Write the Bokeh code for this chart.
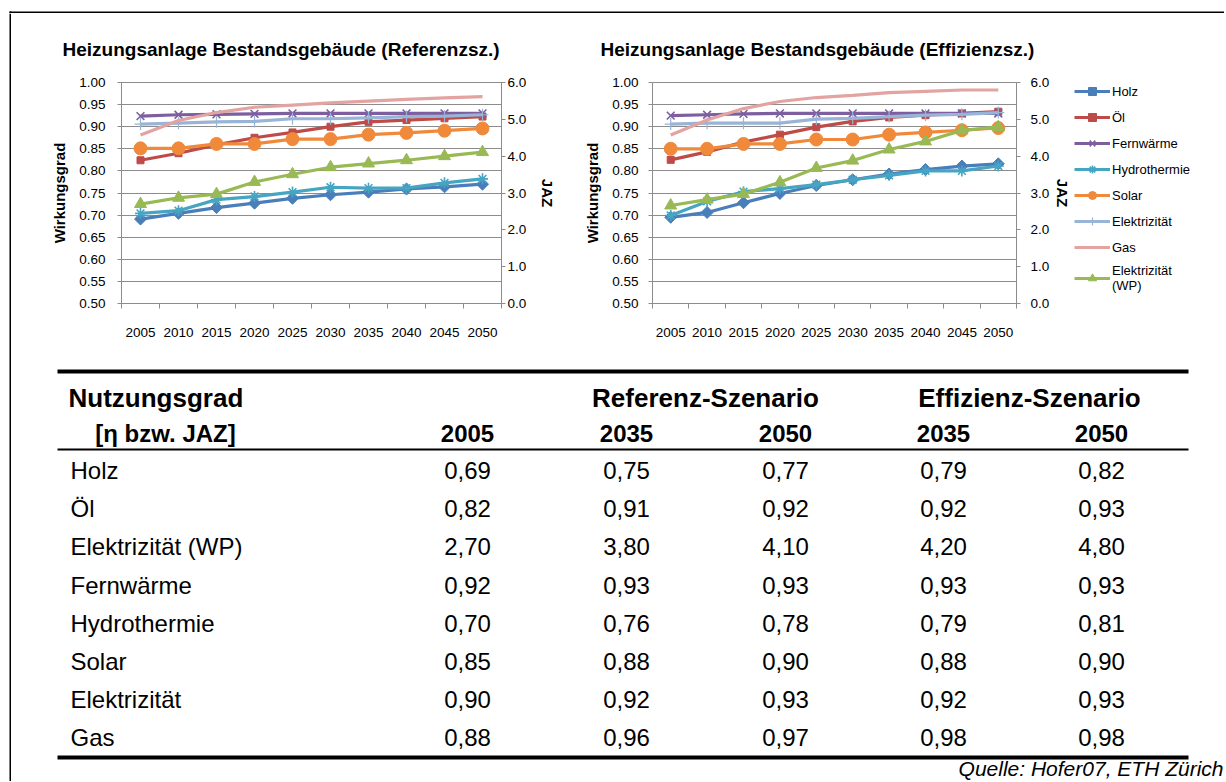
import numpy as np
from bokeh.plotting import figure
from bokeh.layouts import row, column
from bokeh.models import (Range1d, LinearAxis, FixedTicker, NumeralTickFormatter,
                          Legend, LegendItem)
from bokeh.embed import file_html
from bokeh.resources import INLINE
from bokeh.core.properties import value

FONT = "Liberation Sans"

# ---------------- data ----------------
years = [2005, 2010, 2015, 2020, 2025, 2030, 2035, 2040, 2045, 2050]
series = ["Holz", "Öl", "Fernwärme", "Hydrothermie", "Solar", "Elektrizität", "Gas", "Elektrizität (WP)"]

# Referenz-Szenario (Wirkungsgrad, left axis)
holz_ref = [0.691, 0.704, 0.717, 0.727, 0.738, 0.746, 0.752, 0.759, 0.764, 0.770]
oel_ref = [0.824, 0.840, 0.859, 0.875, 0.887, 0.900, 0.911, 0.915, 0.919, 0.923]
fern_ref = [0.924, 0.927, 0.928, 0.929, 0.930, 0.930, 0.930, 0.930, 0.930, 0.930]
hydro_ref = [0.704, 0.710, 0.735, 0.742, 0.752, 0.763, 0.761, 0.761, 0.773, 0.782]
solar_ref = [0.851, 0.851, 0.861, 0.861, 0.872, 0.872, 0.882, 0.886, 0.891, 0.896]
elek_ref = [0.906, 0.908, 0.911, 0.912, 0.918, 0.918, 0.920, 0.923, 0.924, 0.927]
gas_ref = [0.881, 0.914, 0.932, 0.944, 0.949, 0.954, 0.958, 0.962, 0.965, 0.968]
wp_ref = [2.70, 2.87, 2.97, 3.30, 3.51, 3.70, 3.80, 3.89, 4.00, 4.11]   # JAZ, right axis

# Effizienz-Szenario
holz_eff = [0.695, 0.706, 0.728, 0.749, 0.767, 0.780, 0.793, 0.803, 0.811, 0.816]
oel_eff = [0.825, 0.843, 0.865, 0.882, 0.899, 0.912, 0.921, 0.926, 0.930, 0.934]
fern_eff = [0.925, 0.927, 0.929, 0.930, 0.930, 0.930, 0.930, 0.930, 0.930, 0.930]
hydro_eff = [0.699, 0.731, 0.753, 0.760, 0.769, 0.780, 0.790, 0.800, 0.800, 0.811]
solar_eff = [0.850, 0.850, 0.861, 0.861, 0.871, 0.871, 0.882, 0.887, 0.892, 0.897]
elek_eff = [0.906, 0.908, 0.908, 0.908, 0.917, 0.919, 0.923, 0.926, 0.928, 0.932]
gas_eff = [0.881, 0.915, 0.941, 0.957, 0.966, 0.971, 0.977, 0.980, 0.983, 0.983]
wp_eff = [2.66, 2.82, 2.97, 3.29, 3.68, 3.88, 4.18, 4.40, 4.70, 4.79]

y_ticks = [0.50, 0.55, 0.60, 0.65, 0.70, 0.75, 0.80, 0.85, 0.90, 0.95, 1.00]
jaz_ticks = [0, 1, 2, 3, 4, 5, 6]

# Table
table_labels = ["Holz", "Öl", "Elektrizität (WP)", "Fernwärme", "Hydrothermie", "Solar", "Elektrizität", "Gas"]
t_2005 = [0.69, 0.82, 2.70, 0.92, 0.70, 0.85, 0.90, 0.88]
t_ref_2035 = [0.75, 0.91, 3.80, 0.93, 0.76, 0.88, 0.92, 0.96]
t_ref_2050 = [0.77, 0.92, 4.10, 0.93, 0.78, 0.90, 0.93, 0.97]
t_eff_2035 = [0.79, 0.92, 4.20, 0.93, 0.79, 0.88, 0.92, 0.98]
t_eff_2050 = [0.82, 0.93, 4.80, 0.93, 0.81, 0.90, 0.93, 0.98]
t_col_years = ["2005", "2035", "2050", "2035", "2050"]

# ---------------- styles ----------------
COLORS = ["#4A7EBB", "#BE4B48", "#7D5FA0", "#46A5C2", "#F08A3A", "#98B4D6", "#E2A3A1", "#98B954"]
MARKERS = [("square", 8.5, np.pi / 4), ("square", 7, 0), ("x", 11, 0), ("asterisk", 11, 0),
           ("circle", 13, 0), ("cross", 12, 0), (None, 0, 0), ("triangle", 12, 0)]
GRID = "#8C8C8C"
FIG_H = 337
PAGE_W = 1224


def draw_series(p, xs, all_vals):
    items = []
    for i, name in enumerate(series):
        ys = all_vals[i]
        kw = {"y_range_name": "jaz"} if i == 7 else {}
        col = COLORS[i]
        rends = [p.line(xs, ys, line_color=col, line_width=3.2, **kw)]
        mk, sz, ang = MARKERS[i]
        if mk is not None:
            if mk in ("x", "asterisk", "cross"):
                rends.append(p.scatter(xs, ys, marker=mk, size=sz, line_color=col,
                                       line_width=1.6 if mk != "cross" else 1.2, **kw))
            else:
                rends.append(p.scatter(xs, ys, marker=mk, size=sz, angle=ang,
                                       fill_color=col, line_color=col, line_width=1, **kw))
        label = "Elektrizität\n(WP)" if name == "Elektrizität (WP)" else name
        items.append(LegendItem(label=label, renderers=rends))
    return items


def make_chart(title, vals, wp_vals, fig_w, frame_w, frame_h, b_left, title_off,
               ylab_stand, ylab_axstand, r_lab_stand, r_axstand):
    p = figure(width=fig_w, height=FIG_H, output_backend="svg", toolbar_location=None,
               x_range=Range1d(years[0] - 2.5, years[-1] + 2.5), y_range=Range1d(0.5, 1.0),
               min_border_left=b_left, min_border_right=fig_w - b_left - frame_w, min_border_top=60,
               min_border_bottom=FIG_H - 60 - frame_h,
               background_fill_color="white", border_fill_color="white",
               outline_line_color=GRID, outline_line_width=1)
    p.title.text = title
    p.title.align = "left"
    p.title.offset = title_off
    p.title.standoff = 46
    p.title.text_font = FONT
    p.title.text_font_size = "19px"
    p.title.text_font_style = "bold"
    p.title.text_color = "black"

    p.xgrid.visible = False
    p.ygrid.grid_line_color = GRID
    p.ygrid.grid_line_width = 1

    xa = p.xaxis[0]
    xa.ticker = FixedTicker(ticks=years, minor_ticks=[y - 2.5 for y in years] + [years[-1] + 2.5])
    xa.major_label_overrides = {y: str(y) for y in years}
    xa.major_tick_out = 0
    xa.major_tick_in = 0
    xa.minor_tick_out = 5
    xa.minor_tick_in = 0
    xa.minor_tick_line_color = GRID
    xa.axis_line_color = GRID
    xa.major_label_standoff = 19
    xa.major_label_text_font = FONT
    xa.major_label_text_font_size = "13.5px"
    xa.major_label_text_color = "black"

    ya = p.yaxis[0]
    ya.ticker = FixedTicker(ticks=y_ticks)
    ya.formatter = NumeralTickFormatter(format="0.00")
    ya.major_tick_out = 4
    ya.major_tick_in = 0
    ya.minor_tick_out = 0
    ya.minor_tick_in = 0
    ya.major_tick_line_color = GRID
    ya.axis_line_color = GRID
    ya.major_label_standoff = ylab_stand
    ya.major_label_text_font = FONT
    ya.major_label_text_font_size = "13.5px"
    ya.major_label_text_color = "black"
    ya.axis_label = "Wirkungsgrad"
    ya.axis_label_standoff = ylab_axstand
    ya.axis_label_text_font = FONT
    ya.axis_label_text_font_size = "15px"
    ya.axis_label_text_font_style = "bold"
    ya.axis_label_text_color = "black"

    p.extra_y_ranges = {"jaz": Range1d(0, 6)}
    ra = LinearAxis(y_range_name="jaz", ticker=FixedTicker(ticks=jaz_ticks),
                    formatter=NumeralTickFormatter(format="0.0"))
    ra.major_tick_out = 4
    ra.major_tick_in = 0
    ra.minor_tick_out = 0
    ra.minor_tick_in = 0
    ra.major_tick_line_color = GRID
    ra.axis_line_color = GRID
    ra.major_label_standoff = r_lab_stand
    ra.major_label_text_font = FONT
    ra.major_label_text_font_size = "13.5px"
    ra.major_label_text_color = "black"
    ra.axis_label = "JAZ"
    ra.axis_label_standoff = r_axstand
    ra.axis_label_text_font = FONT
    ra.axis_label_text_font_size = "15px"
    ra.axis_label_text_font_style = "bold"
    ra.axis_label_text_color = "black"
    p.add_layout(ra, "right")

    draw_series(p, years, list(vals) + [wp_vals])
    return p


eff_vals = [holz_eff, oel_eff, fern_eff, hydro_eff, solar_eff, elek_eff, gas_eff]

left = make_chart("Heizungsanlage Bestandsgebäude (Referenzsz.)",
                  [holz_ref, oel_ref, fern_ref, hydro_ref, solar_ref, elek_ref, gas_ref], wp_ref,
                  fig_w=549, frame_w=380, frame_h=236, b_left=110, title_off=-59,
                  ylab_stand=12, ylab_axstand=8, r_lab_stand=2, r_axstand=10)

right = make_chart("Heizungsanlage Bestandsgebäude (Effizienzsz.)", eff_vals, wp_eff,
                   fig_w=514, frame_w=366, frame_h=230, b_left=92, title_off=-52,
                   ylab_stand=10, ylab_axstand=8, r_lab_stand=10, r_axstand=2)

# ---------------- legend (own panel right of the second chart) ----------------
# The series are plotted again here outside the visible range, only to feed the legend.
LW = PAGE_W - 11 - 549 - 514
leg_fig = figure(width=LW, height=FIG_H, output_backend="svg", toolbar_location=None,
                 min_border=0, x_axis_location=None, y_axis_location=None, title=None,
                 outline_line_color=None, x_range=Range1d(0, 1), y_range=Range1d(0, 1),
                 background_fill_color="white", border_fill_color="white")
leg_fig.extra_y_ranges = {"jaz": Range1d(0, 1)}
leg_fig.grid.visible = False
leg_items = draw_series(leg_fig, years, eff_vals + [wp_eff])
lg = Legend(items=leg_items, location=(0, 10))
lg.margin = 0
lg.padding = 4
lg.border_line_color = None
lg.background_fill_alpha = 0
lg.glyph_width = 36
lg.glyph_height = 20
lg.label_height = 20
lg.spacing = 6
lg.label_standoff = 2
lg.label_text_font = FONT
lg.label_text_font_size = "13px"
lg.label_text_color = "black"
leg_fig.add_layout(lg, "center")

# ---------------- table ----------------
TW, TH = PAGE_W - 11, 431
X0, Y0 = 11, 350  # page offset of the table figure
tab = figure(width=TW, height=TH, output_backend="svg", toolbar_location=None, title=None,
             x_range=Range1d(X0, X0 + TW), y_range=Range1d(Y0 + TH, Y0),
             min_border=0, outline_line_color=None, x_axis_location=None, y_axis_location=None,
             background_fill_color="white", border_fill_color="white")
tab.grid.visible = False

label_x = 70
col_x = [467, 626, 785, 943, 1101]
row_y = [470 + 38.2 * i for i in range(len(table_labels))]
FS = "24px"
common = dict(text_font=value(FONT), text_color="black", text_baseline="middle")

# rules
tab.segment(x0=[57, 57, 57], x1=[1188, 1188, 1188], y0=[371, 449, 757], y1=[371, 449, 757],
            line_color="black", line_width=[4, 2, 4])

# header
tab.text(x=[68], y=[397], text=["Nutzungsgrad"], text_align="left", text_font_style="bold",
         text_font_size="26px", **common)
tab.text(x=[705, 1029], y=[397, 397], text=["Referenz-Szenario", "Effizienz-Szenario"],
         text_align="center", text_font_style="bold", text_font_size="26px", **common)
tab.text(x=[165], y=[433], text=["[η bzw. JAZ]"], text_align="center", text_font_style="bold",
         text_font_size=FS, **common)
tab.text(x=col_x, y=[433] * 5, text=t_col_years, text_align="center", text_font_style="bold",
         text_font_size=FS, **common)

# body
tab.text(x=[label_x] * len(table_labels), y=row_y, text=table_labels, text_align="left",
         text_font_size=FS, **common)
for cx, col in zip(col_x, [t_2005, t_ref_2035, t_ref_2050, t_eff_2035, t_eff_2050]):
    txt = [f"{v:.2f}".replace(".", ",") for v in col]
    tab.text(x=[cx] * len(txt), y=row_y, text=txt, text_align="center", text_font_size=FS, **common)

tab.text(x=[1223], y=[768], text=["Quelle: Hofer07, ETH Zürich"], text_align="right",
         text_font_size="21px", text_font_style="italic", **common)

# ---------------- frame border (top and left rules) ----------------
top_strip = figure(width=PAGE_W, height=13, output_backend="svg", toolbar_location=None,
                   min_border=0, title=None, x_axis_location=None, y_axis_location=None,
                   outline_line_color=None, x_range=Range1d(0, PAGE_W), y_range=Range1d(13, 0),
                   background_fill_color="white", border_fill_color="white")
top_strip.grid.visible = False
top_strip.quad(left=[9, 9], right=[PAGE_W, 11], top=[11, 11], bottom=[13, 13],
               fill_color="black", line_color=None)

left_strip = figure(width=11, height=FIG_H + TH, output_backend="svg", toolbar_location=None,
                    min_border=0, title=None, x_axis_location=None, y_axis_location=None,
                    outline_line_color=None, x_range=Range1d(0, 11), y_range=Range1d(0, 1),
                    background_fill_color="white", border_fill_color="white")
left_strip.grid.visible = False
left_strip.quad(left=[9], right=[11], top=[1], bottom=[0], fill_color="black", line_color=None)

content = column(row(left, right, leg_fig), tab)
root = column(top_strip, row(left_strip, content))

open("out.html", "w").write(file_html(root, INLINE))
